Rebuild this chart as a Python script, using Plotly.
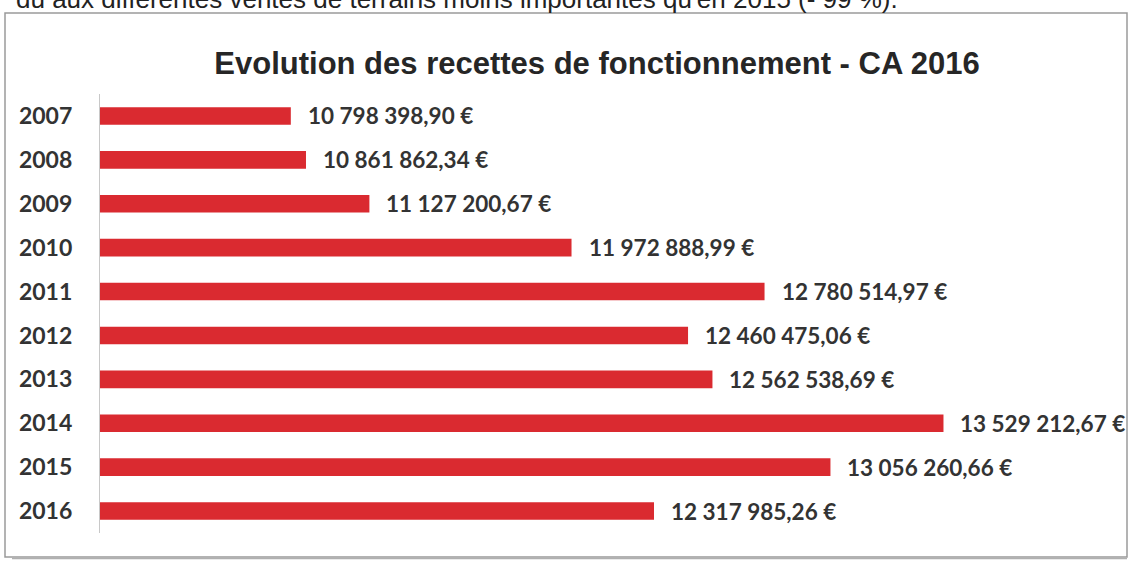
import plotly.graph_objects as go

years = ["2007", "2008", "2009", "2010", "2011", "2012", "2013", "2014", "2015", "2016"]
values = [10798398.90, 10861862.34, 11127200.67, 11972888.99, 12780514.97,
          12460475.06, 12562538.69, 13529212.67, 13056260.66, 12317985.26]
title_text = "Evolution des recettes de fonctionnement - CA 2016"
top_text = "dû aux différentes ventes de terrains moins importantes qu'en 2015 (- 99 %)."


def fmt(v):
    s = f"{v:,.2f}"
    ent, dec = s.split(".")
    return ent.replace(",", " ") + "," + dec + " €"


labels = [fmt(v) for v in values]

W, H = 1129, 562
L, R, T, B = 100, 9, 94, 29
pw, ph = W - L - R, H - T - B


def px(xp):
    return (xp - L) / pw


def py(yp):
    return (H - B - yp) / ph


fig = go.Figure()
fig.add_trace(go.Bar(
    x=values, y=years, orientation="h",
    marker=dict(color="#da2a30", line=dict(width=0)),
    hoverinfo="skip",
))

ann = []
for i, (v, t) in enumerate(zip(values, labels)):
    ann.append(dict(x=v, y=i, xref="x", yref="y", text=t, showarrow=False,
                    xanchor="left", yanchor="middle", xshift=15,
                    font=dict(family="Lato", size=22.5, color="#333333", weight="bold")))
ann.append(dict(x=px(900), y=py(-1), xref="paper", yref="paper", text=top_text,
                showarrow=False, xanchor="right", yanchor="middle",
                font=dict(family="Liberation Sans, Arial", size=26, color="#222222")))

fig.update_layout(
    width=W, height=H,
    margin=dict(l=L, r=R, t=T, b=B, pad=0),
    paper_bgcolor="white", plot_bgcolor="white",
    bargap=0.6,
    showlegend=False,
    title=dict(text="<b>" + title_text + "</b>", x=597 / W, y=1 - 63 / H,
               xref="container", yref="container", xanchor="center", yanchor="middle",
               font=dict(family="Liberation Sans, Arial", size=31, color="#262626")),
    xaxis=dict(range=[10000000, 10000000 + pw / 0.000239], autorange=False, visible=False,
               showgrid=False, zeroline=False),
    yaxis=dict(type="category", categoryorder="array", categoryarray=years,
               range=[9.5, -0.5], autorange=False, showgrid=False, zeroline=False,
               showline=True, linecolor="#c8c8c8", linewidth=1.2, ticks="",
               ticklabelstandoff=22,
               tickfont=dict(family="Lato", size=23, color="#333333", weight="bold")),
    annotations=ann,
    shapes=[
        dict(type="rect", xref="paper", yref="paper",
             x0=px(5), x1=px(1127), y0=py(557), y1=py(13),
             line=dict(color="#9a9a9a", width=1.5), fillcolor="rgba(0,0,0,0)", layer="below"),
        dict(type="line", xref="paper", yref="paper",
             x0=px(12), x1=px(1127), y0=py(558.5), y1=py(558.5),
             line=dict(color="#b0b0b0", width=1.5)),
    ],
)

fig.write_html("out.html", config={"displayModeBar": False},
               post_script="document.body.style.margin='0';document.body.style.overflow='hidden';")
